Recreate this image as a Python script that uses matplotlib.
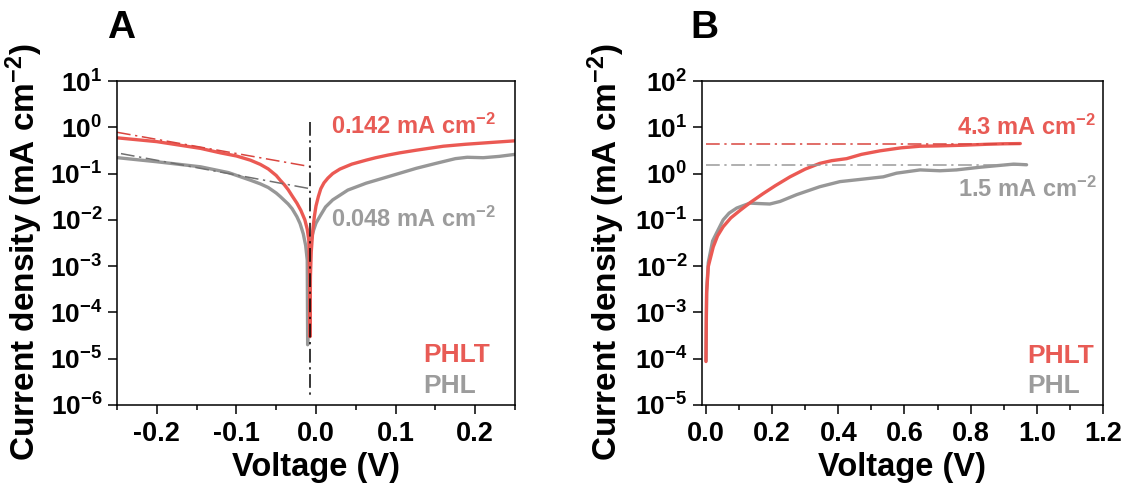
import math
import matplotlib
matplotlib.use("Agg")
import matplotlib.pyplot as plt
from matplotlib.ticker import FixedLocator, MultipleLocator, FuncFormatter, NullLocator

plt.rcParams['font.family'] = ['Liberation Sans', 'DejaVu Sans']
plt.rcParams['font.weight'] = 'bold'
plt.rcParams['mathtext.fontset'] = 'custom'
plt.rcParams['mathtext.rm'] = 'Liberation Sans:bold'
plt.rcParams['mathtext.bf'] = 'Liberation Sans:bold'
plt.rcParams['mathtext.it'] = 'Liberation Sans:bold'
plt.rcParams['mathtext.default'] = 'bf'
plt.rcParams['axes.unicode_minus'] = False

# --- A: Tafel curves ---
v_phlt_a = [-0.249, -0.20, -0.145, -0.12, -0.10, -0.0825, -0.07, -0.06, -0.05,
            -0.045, -0.04, -0.035, -0.03, -0.024, -0.019, -0.014, -0.011, -0.009,
            -0.008, -0.0075, -0.007, -0.006, -0.004, -0.002, 0.0, 0.003, 0.006,
            0.01, 0.015, 0.021, 0.03, 0.045, 0.063, 0.075, 0.09, 0.105, 0.126,
            0.16, 0.188, 0.22, 0.25]
j_phlt_a = [0.59, 0.49, 0.35, 0.28, 0.24, 0.195, 0.158, 0.126, 0.091,
            0.072, 0.058, 0.045, 0.033, 0.023, 0.016, 0.01, 0.0063, 0.0036,
            0.0005, 3e-5, 0.0006, 0.002, 0.006, 0.012, 0.02, 0.032, 0.047,
            0.063, 0.08, 0.10, 0.125, 0.16, 0.195, 0.22, 0.25, 0.28, 0.32,
            0.39, 0.43, 0.47, 0.51]

v_phl_a = [-0.249, -0.20, -0.145, -0.11, -0.0825, -0.07, -0.06, -0.05, -0.045,
           -0.035, -0.03, -0.024, -0.02, -0.016, -0.013, -0.011, -0.0105, -0.0095,
           -0.0075, -0.005, -0.003, 0.0, 0.005, 0.012, 0.021, 0.04, 0.063, 0.09,
           0.126, 0.15, 0.175, 0.19, 0.21, 0.23, 0.25]
j_phl_a = [0.22, 0.18, 0.14, 0.105, 0.072, 0.06, 0.05, 0.038, 0.032,
           0.022, 0.0174, 0.0117, 0.0083, 0.005, 0.0028, 0.00135, 2e-5, 0.0008,
           0.0026, 0.0045, 0.006, 0.0085, 0.012, 0.019, 0.027, 0.044, 0.062, 0.085,
           0.13, 0.165, 0.21, 0.225, 0.22, 0.235, 0.26]

# Tafel extrapolation lines and corrosion potential
tafel_v_phlt = [-0.25, -0.008]
tafel_j_phlt = [0.78, 0.142]
tafel_v_phl = [-0.245, -0.01]
tafel_j_phl = [0.27, 0.048]
e_corr = -0.0075
e_corr_span = [1.3, 1.5e-6]

# --- B: LSV curves ---
v_phlt_b = [0.0, 0.001, 0.002, 0.007, 0.022, 0.035, 0.052, 0.075, 0.103, 0.135,
            0.173, 0.21, 0.254, 0.30, 0.344, 0.38, 0.425, 0.47, 0.526, 0.59,
            0.647, 0.70, 0.778, 0.85, 0.90, 0.95]
j_phlt_b = [8.7e-5, 0.0008, 0.0026, 0.0098, 0.026, 0.045, 0.071, 0.11, 0.16, 0.24,
            0.37, 0.55, 0.85, 1.25, 1.66, 1.9, 2.1, 2.6, 3.1, 3.6,
            3.9, 3.95, 4.1, 4.3, 4.4, 4.45]

v_phl_b = [0.0, 0.002, 0.007, 0.02, 0.032, 0.052, 0.07, 0.093, 0.133, 0.16,
           0.193, 0.224, 0.274, 0.344, 0.405, 0.475, 0.536, 0.576, 0.647, 0.707,
           0.757, 0.828, 0.93, 0.969]
j_phl_b = [9e-5, 0.003, 0.012, 0.035, 0.052, 0.1, 0.14, 0.18, 0.23, 0.225,
           0.22, 0.25, 0.35, 0.52, 0.67, 0.76, 0.85, 1.02, 1.2, 1.15,
           1.2, 1.37, 1.6, 1.55]

j_lim_phlt = 4.3
j_lim_phl = 1.5
lim_v_end = [0.95, 0.97]

RED = '#EB5953'
GRAY = '#979797'
RED_TXT = '#E85B55'
GRAY_TXT = '#9C9C9C'

dashdot = (0, (9, 3, 1.5, 3))

fig = plt.figure(figsize=(11.32, 4.93), dpi=100)
ax_a = fig.add_axes([117 / 1132, 88 / 493, 398 / 1132, 324 / 493])
ax_b = fig.add_axes([702 / 1132, 88 / 493, 401 / 1132, 324 / 493])


def log_label(val, pos):
    return r'$\mathbf{10^{%d}}$' % round(math.log10(val))


def tick_fmt(v, pos):
    return '0.0' if abs(v) < 1e-9 else '%.1f' % v


def style(ax, decades):
    ax.set_yscale('log')
    ax.yaxis.set_major_locator(FixedLocator([10.0 ** d for d in decades]))
    ax.yaxis.set_minor_locator(NullLocator())
    ax.yaxis.set_major_formatter(FuncFormatter(log_label))
    ax.xaxis.set_major_formatter(FuncFormatter(tick_fmt))
    ax.tick_params(axis='both', which='major', direction='out', length=6.5, width=1.1,
                   labelsize=19.5, pad=5)
    ax.tick_params(axis='x', which='minor', direction='out', length=3.5, width=1.1)
    ax.tick_params(axis='y', labelsize=19, pad=4)
    for s in ax.spines.values():
        s.set_linewidth(1.1)
    ax.set_xlabel('Voltage (V)', fontsize=23.5, fontweight='bold')
    ax.set_ylabel(r'Current density (mA cm$^{-2}$)', fontsize=24, fontweight='bold')


# Panel A
ax_a.plot(v_phl_a, j_phl_a, color=GRAY, lw=2.4, solid_capstyle='round')
ax_a.plot(v_phlt_a, j_phlt_a, color=RED, lw=2.4, solid_capstyle='round')
ax_a.plot(tafel_v_phlt, tafel_j_phlt, color='#D9453F', lw=1.1, linestyle=dashdot)
ax_a.plot(tafel_v_phl, tafel_j_phl, color='#707070', lw=1.1, linestyle=dashdot)
ax_a.plot([e_corr, e_corr], e_corr_span, color='black', lw=1.1, linestyle=dashdot)
ax_a.set_xlim(-0.25, 0.25)
ax_a.set_ylim(1e-6, 1e1)
ax_a.xaxis.set_major_locator(MultipleLocator(0.1))
ax_a.xaxis.set_minor_locator(MultipleLocator(0.05))
style(ax_a, range(-6, 2))
ax_a.text(0.019, 0.71, r'0.142 mA cm$^{-2}$', color=RED_TXT, fontsize=17, fontweight='bold')
ax_a.text(0.019, 0.007, r'0.048 mA cm$^{-2}$', color=GRAY_TXT, fontsize=17, fontweight='bold')
ax_a.text(0.135, 8.5e-6, 'PHLT', color=RED_TXT, fontsize=19, fontweight='bold')
ax_a.text(0.135, 1.8e-6, 'PHL', color=GRAY_TXT, fontsize=19, fontweight='bold')

# Panel B
ax_b.plot(v_phl_b, j_phl_b, color=GRAY, lw=2.4, solid_capstyle='round')
ax_b.plot(v_phlt_b, j_phlt_b, color=RED, lw=2.4, solid_capstyle='round')
ax_b.plot([0, lim_v_end[0]], [j_lim_phlt, j_lim_phlt], color='#D9453F', lw=1.1, linestyle=dashdot)
ax_b.plot([0, lim_v_end[1]], [j_lim_phl, j_lim_phl], color='#9A9A9A', lw=1.1, linestyle=dashdot)
ax_b.set_xlim(-0.012, 1.2)
ax_b.set_ylim(1e-5, 1e2)
ax_b.xaxis.set_major_locator(MultipleLocator(0.2))
ax_b.xaxis.set_minor_locator(MultipleLocator(0.1))
style(ax_b, range(-5, 3))
ax_b.text(0.758, 6.8, r'4.3 mA cm$^{-2}$', color=RED_TXT, fontsize=17, fontweight='bold')
ax_b.text(0.761, 0.31, r'1.5 mA cm$^{-2}$', color=GRAY_TXT, fontsize=17, fontweight='bold')
ax_b.text(0.97, 8.1e-5, 'PHLT', color=RED_TXT, fontsize=19, fontweight='bold')
ax_b.text(0.97, 1.8e-5, 'PHL', color=GRAY_TXT, fontsize=19, fontweight='bold')

# label placement
ax_a.yaxis.set_label_coords(-0.18, 0.47)
ax_b.yaxis.set_label_coords(-0.187, 0.47)
ax_a.xaxis.set_label_coords(0.5, -0.145)
ax_b.xaxis.set_label_coords(0.5, -0.145)

fig.text(107 / 1132, 1 - 38 / 493, 'A', fontsize=28, fontweight='bold', va='baseline')
fig.text(690 / 1132, 1 - 38 / 493, 'B', fontsize=28, fontweight='bold', va='baseline')

fig.savefig('out.png', dpi=100)
